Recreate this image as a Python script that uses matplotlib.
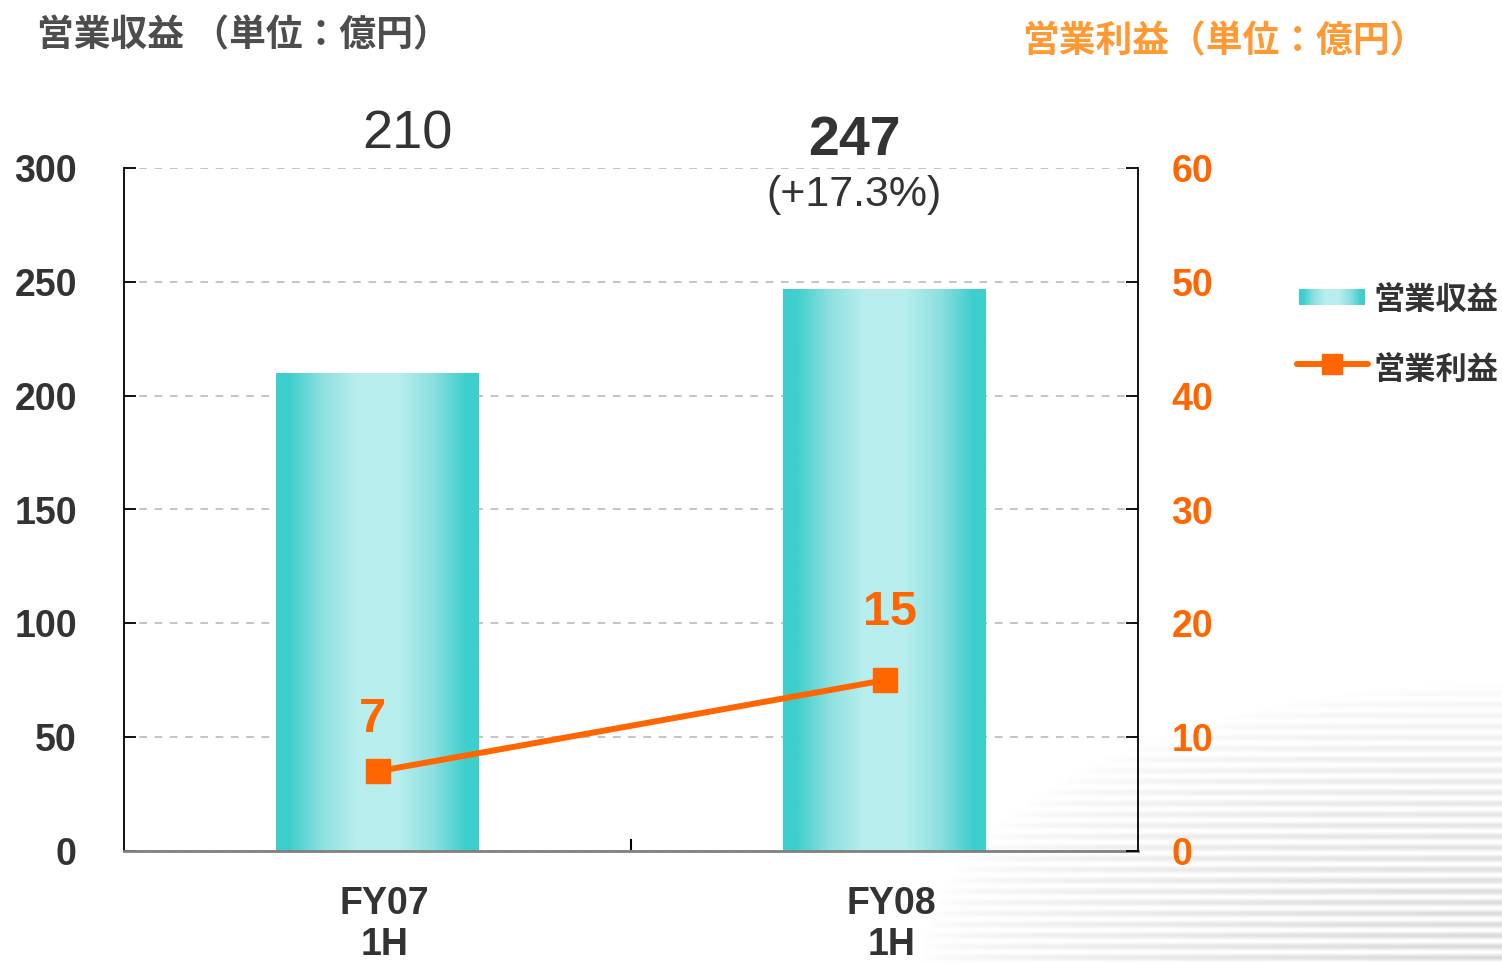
import numpy as np
import matplotlib
matplotlib.use("Agg")
import matplotlib.pyplot as plt
from matplotlib.colors import LinearSegmentedColormap
from matplotlib.transforms import ScaledTranslation

# data
periods = ["FY07\n1H", "FY08\n1H"]
revenue = [210, 247]
profit = [7, 15]
revenue_growth = "(+17.3%)"

W, H = 1502, 963
num_font = ["Liberation Sans", "DejaVu Sans"]
jp_font = ["Noto Sans CJK JP", "DejaVu Sans"]

bar_cm = LinearSegmentedColormap.from_list("bar", ["#b8eeee", "#8fe0e0", "#3ccfcd"])
orange = "#ff6600"


def bar_gradient(n=256):
    t = np.abs(np.linspace(-1, 1, n))
    c = np.clip((t - 0.2) / 0.68, 0, 1)
    return c.reshape(1, -1)


fig = plt.figure(figsize=(W / 100, H / 100), dpi=100)

# faint striped background in the lower right corner
bg = fig.add_axes([0, 0, 1, 1], zorder=0)
yy, xx = np.mgrid[0:H, 0:W]
w = 1 - np.sqrt(((W - xx) / 580.0) ** 2 + ((H - yy) / 280.0) ** 2)
w = np.clip(w, 0, 1) ** 0.6
stripe = 0.5 + 0.5 * np.cos(2 * np.pi * yy / 11.0)
grey = 1 - 0.15 * w * stripe
bg.imshow(np.dstack([grey, grey, grey]), extent=(0, W, H, 0), aspect="auto")
bg.set_axis_off()

ax = fig.add_axes([124 / W, 1 - 851 / H, (1138 - 124) / W, (851 - 168) / H], zorder=1)
ax.patch.set_alpha(0)
x = np.arange(len(periods))

bars = ax.bar(x, revenue, width=0.4, color="none", edgecolor="none", zorder=2)
for b in bars:
    x0, bw, bh = b.get_x(), b.get_width(), b.get_height()
    im = ax.imshow(bar_gradient(), extent=(x0, x0 + bw, 0, bh), aspect="auto",
                   cmap=bar_cm, vmin=0, vmax=1, zorder=2)
    im.set_clip_path(b)

ax.set_xlim(-0.5, 1.5)
ax.set_ylim(0, 300)
ax.set_yticks(range(0, 301, 50))
ax.yaxis.grid(True, linestyle=(0, (5, 5)), color="#b4b4b4", linewidth=1.1)
ax.set_axisbelow(True)
ax.tick_params(axis="y", direction="in", length=8.5, width=1.3, pad=34,
               labelsize=27, labelcolor="#333333")
ax.set_xticks(x)
ax.set_xticklabels(periods, fontfamily=num_font, fontweight="bold", fontsize=27,
                   color="#333333", linespacing=1.2)
ax.tick_params(axis="x", length=0, pad=25)
for lab in ax.get_xticklabels():
    lab.set_transform(lab.get_transform() + ScaledTranslation(0.07, 0, fig.dpi_scale_trans))
ax.set_xticks([0.5], minor=True)
ax.tick_params(axis="x", which="minor", direction="in", length=9, width=1.5, color="black")
for lab in ax.get_yticklabels():
    lab.set_fontfamily(num_font)
    lab.set_fontweight("bold")
ax.spines["top"].set_visible(False)
ax.spines["right"].set_visible(False)
ax.spines["left"].set_linewidth(1.3)
ax.spines["bottom"].set_color("#808080")
ax.spines["bottom"].set_linewidth(2)

# revenue value labels
ax.text(0.06, 314.5, str(revenue[0]), ha="center", va="center", fontsize=39,
        fontfamily=num_font, color="#333333")
ax.text(0.94, 312, str(revenue[1]), ha="center", va="center", fontsize=40,
        fontfamily=num_font, fontweight="bold", color="#333333")
ax.text(0.94, 288, revenue_growth, ha="center", va="center", fontsize=31,
        fontfamily=num_font, color="#333333")

ax2 = ax.twinx()
ax2.set_zorder(2)
ax2.set_ylim(0, 60)
ax2.set_yticks(range(0, 61, 10))
ax2.tick_params(axis="y", direction="in", length=8.5, width=1.3, pad=24,
                labelsize=27, labelcolor=orange)
for lab in ax2.get_yticklabels():
    lab.set_fontfamily(num_font)
    lab.set_fontweight("bold")
for s in ["top", "left", "bottom"]:
    ax2.spines[s].set_visible(False)
ax2.spines["right"].set_linewidth(1.3)

ax2.plot(x, profit, color=orange, linewidth=4.3, marker="s", markersize=17,
         solid_capstyle="butt", zorder=3)
label_offsets = [(-3.6, 37.5), (4.3, 49)]
for xi, v, off in zip(x, profit, label_offsets):
    ax2.annotate(str(v), (xi, v), xytext=off, textcoords="offset points",
                 ha="center", va="center", fontsize=35, fontfamily=num_font,
                 fontweight="bold", color=orange)

# titles and legend, placed in pixel coordinates
ov = fig.add_axes([0, 0, 1, 1], zorder=5)
ov.set_xlim(0, W)
ov.set_ylim(H, 0)
ov.set_axis_off()
ov.patch.set_alpha(0)

ov.text(37, 36, "営業収益 （単位：億円）", ha="left", va="center", fontsize=26.5,
        fontfamily=jp_font, fontweight="bold", color="#4d4d4d")
ov.text(1022, 42, "営業利益（単位：億円）", ha="left", va="center", fontsize=26.5,
        fontfamily=jp_font, fontweight="bold", color="#ff9933")

ov.imshow(bar_gradient(), extent=(1299, 1365, 305, 289), aspect="auto",
          cmap=bar_cm, vmin=0, vmax=1)
ov.plot([1297, 1368], [364, 364], color=orange, linewidth=4.3,
        solid_capstyle="round")
ov.plot([1332], [364], marker="s", markersize=14, color=orange)
ov.text(1373, 300, "営業収益", ha="left", va="center", fontsize=22.5,
        fontfamily=jp_font, fontweight="bold", color="#333333")
ov.text(1373, 370, "営業利益", ha="left", va="center", fontsize=22.5,
        fontfamily=jp_font, fontweight="bold", color="#333333")
ov.set_xlim(0, W)
ov.set_ylim(H, 0)

fig.savefig("out.png", dpi=100)
